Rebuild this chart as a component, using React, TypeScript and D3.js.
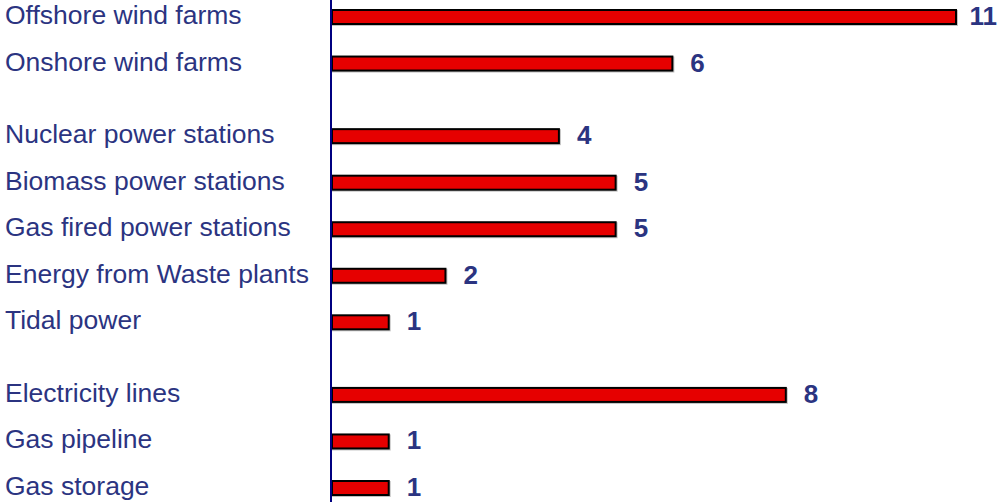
import React, { useEffect, useRef } from "react";
import * as d3 from "d3";

// categories, grouped as in the original (blank space between groups)
const groups: string[][] = [
  ["Offshore wind farms", "Onshore wind farms"],
  [
    "Nuclear power stations",
    "Biomass power stations",
    "Gas fired power stations",
    "Energy from Waste plants",
    "Tidal power",
  ],
  ["Electricity lines", "Gas pipeline", "Gas storage"],
];
const values: number[] = [11, 6, 4, 5, 5, 2, 1, 8, 1, 1];
const maxValue = 11;

const App: React.FC = () => {
  const ref = useRef<SVGSVGElement>(null);

  useEffect(() => {
    const width = 999;
    const height = 502;
    const groupGap = 0.56;

    const svg = d3.select(ref.current);
    svg.selectAll("*").remove();
    svg.attr("width", width).attr("height", height);

    // slot position of every row (gaps between groups)
    const rows: { name: string; value: number; slot: number }[] = [];
    let slot = 0;
    let i = 0;
    groups.forEach((g, gi) => {
      if (gi > 0) slot += groupGap;
      g.forEach((name) => {
        rows.push({ name, value: values[i], slot });
        i++;
        slot += 1;
      });
    });
    const lastSlot = rows[rows.length - 1].slot;

    const y = d3.scaleLinear().domain([0, lastSlot]).range([17, 488]);
    const x = d3.scaleLinear().domain([0, maxValue]).range([332, 956]);
    const barH = 14;

    const labelColor = "#2b3481";
    const font = "'Liberation Sans', Arial, sans-serif";

    const g = svg.append("g");

    // category labels
    g.selectAll(".cat")
      .data(rows)
      .enter()
      .append("text")
      .attr("x", 5)
      .attr("y", (d) => y(d.slot) + 7)
      .style("font-family", font)
      .style("font-size", "26.5px")
      .attr("fill", labelColor)
      .text((d) => d.name);

    // bar shadows
    g.selectAll(".shadow")
      .data(rows)
      .enter()
      .append("rect")
      .attr("x", x(0) + 1)
      .attr("y", (d) => y(d.slot) - barH / 2 + 1)
      .attr("width", (d) => x(d.value) - x(0))
      .attr("height", barH)
      .attr("fill", "none")
      .attr("stroke", "#999")
      .attr("stroke-width", 2)
      .attr("opacity", 0.6);

    // bars
    g.selectAll(".bar")
      .data(rows)
      .enter()
      .append("rect")
      .attr("x", x(0))
      .attr("y", (d) => y(d.slot) - barH / 2)
      .attr("width", (d) => x(d.value) - x(0))
      .attr("height", barH)
      .attr("fill", "#e60000")
      .attr("stroke", "#000")
      .attr("stroke-width", 2);

    // value labels (kept inside the right edge)
    g.selectAll(".val")
      .data(rows)
      .enter()
      .append("text")
      .attr("y", (d) => y(d.slot) + 8)
      .style("font-family", font)
      .style("font-size", "26px")
      .style("font-weight", "bold")
      .attr("fill", labelColor)
      .text((d) => d.value)
      .attr("x", function (d) {
        const w = (this as SVGTextElement).getComputedTextLength();
        return Math.min(x(d.value) + 18, width - w - 2);
      });

    // vertical axis line
    g.append("line")
      .attr("x1", 331)
      .attr("x2", 331)
      .attr("y1", 0)
      .attr("y2", height)
      .attr("stroke", "#000080")
      .attr("stroke-width", 2);
  }, []);

  return (
    <div style={{ position: "fixed", left: 0, top: 0, background: "#fff" }}>
      <svg ref={ref} style={{ display: "block" }}></svg>
    </div>
  );
};

export default App;
